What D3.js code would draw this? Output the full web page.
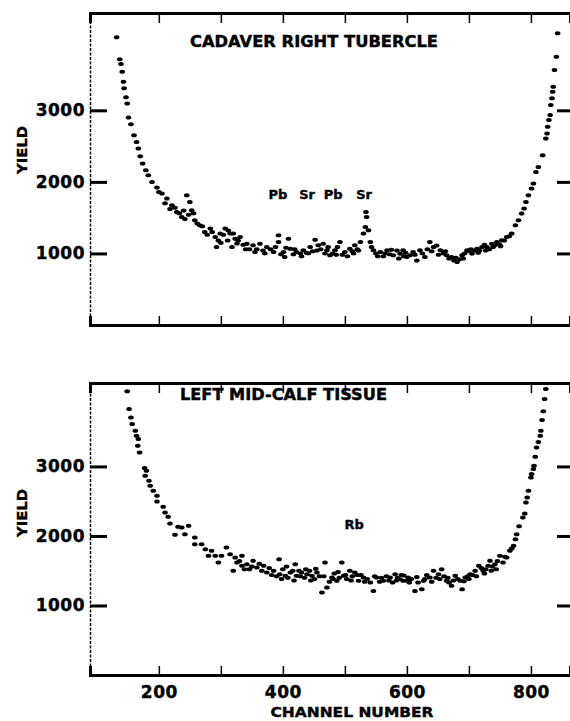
<!DOCTYPE html>
<html>
<head>
<meta charset="utf-8">
<script src="https://cdn.jsdelivr.net/npm/d3@7"></script>
<style>
    body { margin: 0; background: #fff; }
    svg { display: block; }
    text { font-family: "DejaVu Sans", sans-serif; font-weight: bold; fill: #000; stroke: #000; stroke-width: 0.4px; }
</style>
</head>
<body>
<div id="data-visualization"></div>
<script>
// [channel, yield]
const topPoints = [
    [132,4021],[137,3713],[139,3647],[141,3539],[143,3399],[144,3307],[147,3181],[149,3097],[151,2901],[155,2807],
    [160,2653],[164,2559],[167,2467],[170,2359],[174,2257],[179,2163],[183,2093],[189,1999],[197,1921],[200,1860],
    [205,1837],[210,1700],[213,1767],[218,1620],[221,1673],[226,1640],[229,1579],[233,1560],[237,1509],[240,1600],
    [242,1480],[245,1813],[248,1540],[250,1719],[253,1603],[256,1560],[258,1463],[262,1420],[266,1393],[270,1380],
    [274,1299],[278,1260],[283,1347],[286,1300],[291,1229],[293,1089],[296,1180],[299,1277],[300,1150],[304,1260],
    [307,1347],[311,1180],[312,1320],[315,1277],[318,1089],[320,1277],[323,1207],[326,1140],[328,1180],[331,1229],
    [336,1120],[340,1060],[342,1137],[346,1060],[352,1113],[355,1020],[358,1060],[363,1137],[368,1040],[371,1000],
    [374,1089],[380,1060],[385,1019],[388,1090],[393,1253],[393,1160],[397,990],[401,1019],[403,950],[405,1080],
    [409,1207],[412,1067],[417,990],[419,1060],[422,1019],[428,1000],[430,960],[433,1043],[438,1010],[441,1000],
    [444,1089],[448,1030],[452,1193],[455,1040],[457,1113],[461,1060],[465,1137],[468,1000],[471,1043],[473,1090],
    [476,973],[480,1000],[484,1043],[486,980],[488,1090],[492,1159],[496,980],[500,1019],[504,960],[508,1067],
    [512,1030],[514,1000],[516,1113],[520,1060],[522,1040],[525,1159],[530,1277],[533,1369],[534,1580],[535,1509],
    [538,1323],[541,1159],[543,1090],[546,1043],[550,1000],[553,960],[557,1019],[562,960],[565,1000],[568,1043],
    [572,990],[575,1050],[578,973],[584,1040],[587,930],[589,997],[594,1043],[595,960],[598,1010],[600,949],
    [605,973],[610,1020],[613,980],[616,903],[621,1043],[625,1000],[629,949],[633,1060],[637,1159],[640,1030],
    [643,1089],[648,1110],[651,980],[654,1043],[659,1000],[662,1030],[664,973],[668,930],[672,949],[676,900],
    [679,940],[681,879],[685,920],[689,973],[691,930],[693,1000],[697,1043],[701,1030],[703,1060],[705,997],
    [709,1040],[713,1067],[715,1010],[717,1040],[721,1089],[725,1120],[727,1040],[729,1089],[733,1060],[737,1137],
    [739,1090],[741,1110],[745,1159],[749,1130],[751,1100],[753,1183],[757,1180],[761,1229],[765,1240],[769,1277],
    [775,1393],[780,1463],[785,1557],[789,1627],[792,1719],[796,1813],[801,1907],[804,1977],[808,2139],[812,2209],
    [819,2373],[824,2607],[826,2677],[827,2769],[829,2863],[831,2933],[832,3073],[834,3167],[835,3259],[836,3329],
    [838,3563],[841,3749],[843,4077]
];

const bottomPoints = [
    [149,4080],[152,3826],[155,3705],[157,3610],[162,3514],[164,3442],[166,3298],[167,3394],[169,3201],[177,2976],
    [178,2866],[180,2938],[184,2794],[186,2722],[191,2650],[197,2578],[197,2496],[207,2419],[210,2337],[215,2275],
    [218,2179],[226,2016],[231,2131],[237,2122],[242,2026],[248,2146],[258,1977],[258,1882],[269,1882],[275,1810],
    [280,1714],[285,1786],[291,1714],[296,1617],[301,1714],[309,1833],[315,1738],[320,1498],[323,1689],[326,1617],
    [330,1640],[334,1714],[334,1570],[338,1520],[342,1594],[346,1520],[350,1560],[352,1642],[358,1545],[362,1600],
    [366,1500],[369,1570],[374,1473],[378,1540],[382,1440],[385,1498],[390,1420],[394,1666],[395,1450],[398,1380],
    [400,1520],[404,1426],[406,1560],[408,1400],[412,1473],[416,1500],[418,1360],[420,1594],[422,1426],[426,1500],
    [428,1420],[430,1473],[435,1400],[437,1520],[439,1450],[443,1500],[445,1360],[447,1426],[451,1380],[453,1530],
    [455,1473],[459,1420],[463,1185],[466,1420],[468,1617],[471,1257],[475,1340],[479,1401],[481,1380],[483,1460],
    [487,1354],[489,1480],[491,1400],[495,1617],[498,1426],[501,1440],[503,1380],[508,1498],[510,1360],[512,1420],
    [516,1473],[520,1440],[522,1354],[526,1440],[530,1401],[532,1340],[536,1380],[541,1329],[546,1210],[548,1420],
    [551,1401],[556,1340],[559,1400],[562,1354],[567,1420],[571,1360],[573,1401],[577,1330],[581,1450],[583,1360],
    [585,1400],[589,1378],[591,1440],[594,1354],[595,1430],[600,1354],[602,1401],[604,1330],[607,1380],[613,1210],
    [616,1410],[618,1330],[624,1234],[627,1354],[629,1380],[632,1440],[637,1401],[640,1340],[643,1498],[647,1400],
    [651,1450],[653,1380],[656,1522],[660,1420],[664,1354],[666,1400],[668,1330],[672,1282],[675,1360],[678,1426],
    [682,1380],[686,1354],[689,1234],[692,1350],[694,1401],[698,1420],[700,1380],[702,1450],[706,1440],[710,1498],
    [712,1420],[716,1570],[720,1540],[723,1498],[725,1460],[727,1520],[731,1570],[734,1642],[736,1500],[738,1560],
    [742,1594],[744,1520],[746,1640],[750,1714],[755,1617],[758,1700],[761,1689],[766,1786],[769,1820],[772,1858],
    [775,1954],[777,2026],[781,2140],[787,2265],[790,2323],[792,2481],[794,2553],[796,2650],[800,2841],[801,2890],
    [804,2962],[805,3010],[807,3139],[809,3273],[812,3352],[815,3442],[816,3514],[818,3668],[820,3792],[822,3970],
    [824,4114]
];

const xTicks = [200, 300, 400, 500, 600, 700, 800];
const yTicks = [1000, 2000, 3000];

// peak labels: [text, channel, yield]
const topPeakLabels = [["Pb", 392, 1760], ["Sr", 439, 1760], ["Pb", 481, 1760], ["Sr", 531, 1760]];
const bottomPeakLabels = [["Rb", 515, 2100]];

const panels = [
    { title: "CADAVER RIGHT TUBERCLE", titleX: 190, titleY: 47, titleLen: 248,
      points: topPoints, labels: topPeakLabels, top: 13, bottom: 325, yMax: 4360, yieldY: 150, xLabels: false },
    { title: "LEFT MID-CALF TISSUE", titleX: 180, titleY: 400, titleLen: 207,
      points: bottomPoints, labels: bottomPeakLabels, top: 383, bottom: 675, yMax: 4200, yieldY: 513, xLabels: true }
];

const left = 90, right = 570;

const svg = d3.select("#data-visualization")
    .append("svg")
    .attr("width", 570)
    .attr("height", 721);

const xScale = d3.scaleLinear()
    .domain([89, 863])
    .range([left, right]);

const styleTickText = (axis) => {
    axis.selectAll(".tick text")
        .style("font-size", "17px")
        .style("letter-spacing", "0.5px")
        .style("font-family", "DejaVu Sans")
        .style("font-weight", "bold");
}

const drawPanel = (p) => {
    const yScale = d3.scaleLinear()
        .domain([0, p.yMax])
        .range([p.bottom, p.top]);

    const g = svg.append("g");

    // bottom axis, minor ticks pointing in
    const xAxis = g.append("g")
        .attr("transform", "translate(0," + p.bottom + ")")
        .call(d3.axisBottom(xScale).tickValues(xTicks).tickSize(-9).tickPadding(11)
            .tickFormat(d => p.xLabels && d % 200 === 0 ? d : ""));
    xAxis.select(".domain").attr("stroke-width", 3);
    xAxis.selectAll(".tick line").attr("stroke-width", 1.5);
    styleTickText(xAxis);

    // top axis
    const topAxis = g.append("g")
        .attr("transform", "translate(0," + p.top + ")")
        .call(d3.axisTop(xScale).tickValues(xTicks).tickSize(-10).tickFormat(""));
    topAxis.select(".domain").attr("stroke-width", 3);
    topAxis.selectAll(".tick line").attr("stroke-width", 1.5);

    // left axis, dotted as in the scan
    const yAxis = g.append("g")
        .attr("transform", "translate(" + left + ",0)")
        .call(d3.axisLeft(yScale).tickValues(yTicks).tickSize(-17).tickPadding(5)
            .tickSizeOuter(0).tickFormat(d3.format("d")));
    yAxis.select(".domain").attr("stroke-width", 1.5).attr("stroke-dasharray", "3,1.5");
    yAxis.selectAll(".tick line").attr("stroke-width", 3);
    styleTickText(yAxis);

    // right axis, only ticks visible
    const rAxis = g.append("g")
        .attr("transform", "translate(" + right + ",0)")
        .call(d3.axisRight(yScale).tickValues(yTicks).tickSize(-13).tickFormat(""));
    rAxis.select(".domain").remove();
    rAxis.selectAll(".tick line").attr("stroke-width", 3);

    // data points
    g.append("g")
        .selectAll("ellipse")
        .data(p.points)
        .enter()
        .append("ellipse")
        .attr("cx", d => xScale(d[0]))
        .attr("cy", d => yScale(d[1]))
        .attr("rx", 2.8)
        .attr("ry", 2)
        .style("fill", "#000");

    // title
    g.append("text")
        .attr("x", p.titleX)
        .attr("y", p.titleY)
        .attr("textLength", p.titleLen)
        .attr("lengthAdjust", "spacingAndGlyphs")
        .style("font-size", "15px")
        .text(p.title);

    // peak labels
    g.selectAll(".peak")
        .data(p.labels)
        .enter()
        .append("text")
        .attr("class", "peak")
        .attr("x", d => xScale(d[1]))
        .attr("y", d => yScale(d[2]))
        .attr("text-anchor", "middle")
        .style("font-size", "13px")
        .text(d => d[0]);

    // y axis title
    g.append("text")
        .attr("text-anchor", "middle")
        .attr("transform", "translate(27," + p.yieldY + ") rotate(-90)")
        .attr("textLength", 48)
        .attr("lengthAdjust", "spacingAndGlyphs")
        .style("font-size", "14px")
        .text("YIELD");
}

panels.forEach(drawPanel);

svg.append("text")
    .attr("x", 352)
    .attr("y", 717)
    .attr("text-anchor", "middle")
    .attr("textLength", 163)
    .attr("lengthAdjust", "spacingAndGlyphs")
    .style("font-size", "14px")
    .text("CHANNEL NUMBER");
</script>
</body>
</html>
